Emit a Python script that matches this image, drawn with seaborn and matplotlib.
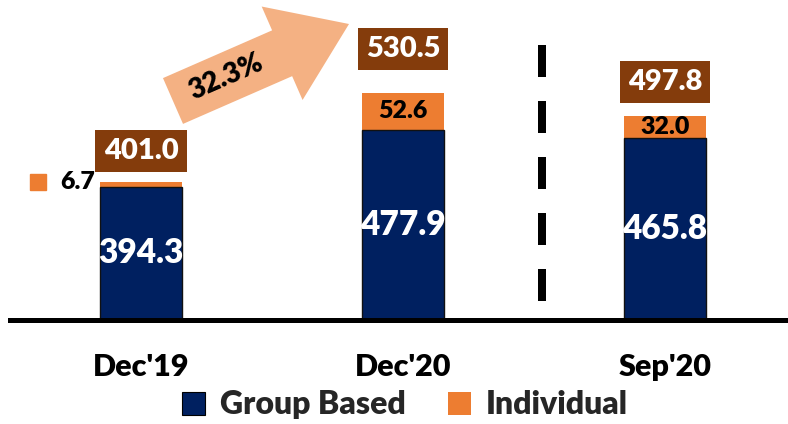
import matplotlib
matplotlib.use("Agg")
import matplotlib.pyplot as plt
import matplotlib.patches as mpatches
from matplotlib.transforms import IdentityTransform
import seaborn as sns
import pandas as pd

periods = ["Dec'19", "Dec'20", "Sep'20"]
group_based = [394.3, 477.9, 465.8]
individual = [6.7, 52.6, 32.0]
totals = [401.0, 530.5, 497.8]
growth_label = "32.3%"

NAVY = "#002060"
ORANGE = "#ED7D31"
BROWN = "#843C0C"
ARROW = "#F4B183"
FONT = "Lato"
WT = "heavy"

sns.set_theme(style="white")
plt.rcParams['font.family'] = [FONT, 'DejaVu Sans']

df = pd.DataFrame({"period": periods, "group": group_based,
                   "individual": individual, "total": totals})

fig = plt.figure(figsize=(7.88, 4.24), dpi=100)
W, H = 788, 424
ax_bottom_px = 319.5
ax = fig.add_axes([10 / W, (H - ax_bottom_px) / H, (W - 10) / W, ax_bottom_px / H])

bw = 0.313
sns.barplot(data=df, x="period", y="total", color=ORANGE, width=bw,
            saturation=1, ax=ax, linewidth=0)
sns.barplot(data=df, x="period", y="group", color=NAVY, width=bw,
            saturation=1, ax=ax, edgecolor="#111111", linewidth=1)

ylo, yhi = 201.4, 666.5
ax.set_ylim(ylo, yhi)
ax.set_xlim(-0.5, 2.47)

for s in ["top", "right", "left"]:
    ax.spines[s].set_visible(False)
ax.spines["bottom"].set_linewidth(3.6)
ax.spines["bottom"].set_color("black")
ax.set_yticks([])
ax.set_xlabel("")
ax.set_ylabel("")
ax.tick_params(axis="x", length=0, pad=24)
for lab in ax.get_xticklabels():
    lab.set_fontsize(22)
    lab.set_fontweight(WT)
    lab.set_color("black")

# total labels in brown boxes
label_offsets = [46, 65, 49]
for i, (t, off) in enumerate(zip(totals, label_offsets)):
    ax.text(i, t + off, f"{t:.1f}", ha="center", va="center", color="white",
            fontsize=21, fontweight=WT,
            bbox=dict(boxstyle="square,pad=0.28", fc=BROWN, ec="none"))

# group-based labels
for i, g in enumerate(group_based):
    ax.text(i, (ylo + g) / 2, f"{g:.1f}", ha="center", va="center",
            color="white", fontsize=24, fontweight=WT)

# individual labels
for i, (g, v) in enumerate(zip(group_based, individual)):
    if i == 0:
        ax.text(-bw / 2 - 0.02, g + v, f"{v:.1f}", ha="right", va="center",
                color="black", fontsize=18, fontweight=WT)
        ax.plot([-0.393], [g + v], marker="s", markersize=11.5,
                color=ORANGE, linestyle="none")
    else:
        ax.text(i, g + v / 2, f"{v:.1f}", ha="center", va="center",
                color="black", fontsize=18, fontweight=WT)

# dashed separator
ax.axvline(1.53, ymin=0.058, ymax=0.859, color="black", linewidth=5.76,
           dashes=(4, 3), solid_capstyle="butt", dash_capstyle="butt")

# growth arrow (pixel coordinates)
tail = (173, H - 101)
tip = (349, H - 24)
arr = mpatches.FancyArrow(tail[0], tail[1], tip[0] - tail[0], tip[1] - tail[1],
                          width=50, head_width=102, head_length=73,
                          length_includes_head=True, color=ARROW, ec="none",
                          transform=IdentityTransform())
fig.patches.append(arr)
arr.set_figure(fig)
fig.text(226 / W, (H - 77) / H, growth_label, rotation=23.6, ha="center",
         va="center", fontsize=20, fontweight=WT, color="black",
         rotation_mode="anchor")

# legend
handles = [mpatches.Patch(facecolor=NAVY, edgecolor="black", linewidth=0.8, label="Group Based"),
           mpatches.Patch(facecolor=ORANGE, edgecolor="none", label="Individual")]
fig.legend(handles=handles, loc="center", bbox_to_anchor=(0.514, 0.045),
           ncol=2, frameon=False, prop={"family": FONT, "weight": WT, "size": 23},
           handlelength=0.72, handleheight=0.72, handletextpad=0.45, columnspacing=1.35,
           borderaxespad=0)

fig.savefig("out.png", dpi=100)
